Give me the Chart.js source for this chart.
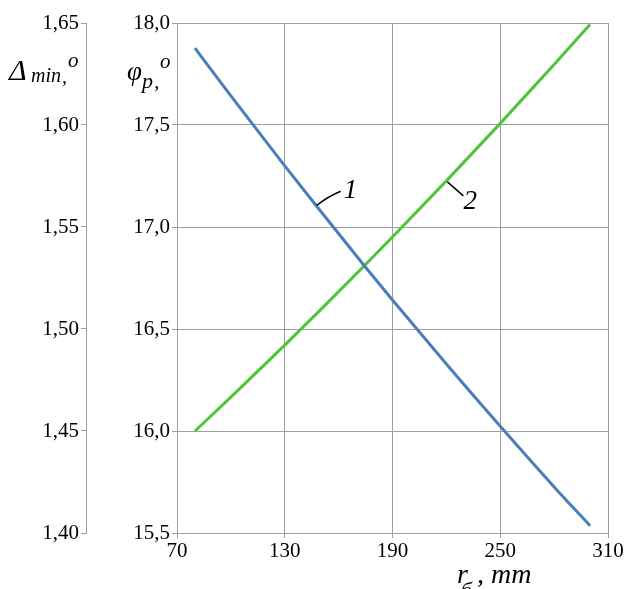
<!DOCTYPE html>
<html>
<head>
<meta charset="utf-8">
<script src="https://cdn.jsdelivr.net/npm/chart.js@4.4.0/dist/chart.umd.min.js"></script>
<style>
  html, body { margin: 0; padding: 0; background: #fff; }
</style>
</head>
<body>
<canvas id="chart" width="626" height="589"></canvas>
<script>
// r_б, mm
const radius = [80, 100, 130, 150, 175, 190, 220, 250, 280, 300];
// curve 1: Δmin, degrees (left outer axis)
const deltaMin = [1.6377, 1.6143, 1.5800, 1.5577, 1.5303, 1.5142, 1.4828, 1.4523, 1.4226, 1.4036];
// curve 2: φp, degrees (inner axis)
const phiP = [16.000, 16.166, 16.421, 16.595, 16.816, 16.951, 17.226, 17.508, 17.797, 17.993];

const xTicks = [70, 130, 190, 250, 310];
const phiTicks = [15.5, 16.0, 16.5, 17.0, 17.5, 18.0];
const phiTickLabels = ['15,5', '16,0', '16,5', '17,0', '17,5', '18,0'];
const deltaTicks = [1.40, 1.45, 1.50, 1.55, 1.60, 1.65];
const deltaTickLabels = ['1,40', '1,45', '1,50', '1,55', '1,60', '1,65'];

const gridColor = '#9f9f9f';
const tickFont = { family: '"Liberation Serif", serif', size: 21 };

function fixedTicks(values) {
    return scale => { scale.ticks = values.map(v => ({ value: v })); };
}

// axis titles and curve labels
const textPlugin = {
    id: 'textPlugin',
    afterDraw(chart) {
        const ctx = chart.ctx;
        const serif = '"Liberation Serif", serif';
        ctx.save();
        ctx.fillStyle = '#000';
        ctx.textBaseline = 'alphabetic';
        ctx.textAlign = 'left';

        // Δmin,o
        ctx.font = 'italic 30px ' + serif;
        ctx.fillText('Δ', 9, 80);
        ctx.font = 'italic 20px ' + serif;
        ctx.fillText('min', 31, 82);
        ctx.fillText(',', 62, 83);
        ctx.font = 'italic 21px ' + serif;
        ctx.fillText('o', 68, 67);

        // φp,o
        ctx.font = 'italic 27px ' + serif;
        ctx.fillText('φ', 127, 80);
        ctx.font = 'italic 22px ' + serif;
        ctx.fillText('p', 142, 88);
        ctx.fillText(',', 154, 88);
        ctx.font = 'italic 21px ' + serif;
        ctx.fillText('o', 160, 68);

        // rб, mm
        ctx.font = 'italic 28px ' + serif;
        ctx.fillText('r', 457, 583);
        ctx.font = 'italic 22px ' + serif;
        ctx.fillText('б', 461, 597);
        ctx.font = 'italic 28px ' + serif;
        ctx.fillText(', mm', 477, 583);

        // curve numbers with leader lines
        const p1 = chart.getDatasetMeta(0).data[3];
        const p2 = chart.getDatasetMeta(1).data[6];
        ctx.strokeStyle = '#000';
        ctx.lineWidth = 1.5;
        ctx.beginPath();
        ctx.moveTo(p1.x - 4, p1.y - 6);
        ctx.quadraticCurveTo(p1.x + 8, p1.y - 15, p1.x + 20, p1.y - 20);
        ctx.moveTo(p2.x + 1, p2.y + 1);
        ctx.lineTo(p2.x + 17, p2.y + 15);
        ctx.stroke();
        ctx.font = 'italic 27px ' + serif;
        ctx.fillText('1', p1.x + 23, p1.y - 13);
        ctx.fillText('2', p2.x + 17, p2.y + 28);
        ctx.restore();
    }
};

const ctx = document.getElementById('chart').getContext('2d');
new Chart(ctx, {
    type: 'line',
    data: {
        datasets: [{
            label: '1',
            data: radius.map((r, i) => ({ x: r, y: deltaMin[i] })),
            yAxisID: 'yDelta',
            borderColor: '#4a7ebb',
            borderWidth: 3,
            pointRadius: 0,
            cubicInterpolationMode: 'monotone',
            fill: false
        }, {
            label: '2',
            data: radius.map((r, i) => ({ x: r, y: phiP[i] })),
            yAxisID: 'yPhi',
            borderColor: '#4fc43a',
            borderWidth: 3,
            pointRadius: 0,
            cubicInterpolationMode: 'monotone',
            fill: false
        }]
    },
    options: {
        responsive: false,
        animation: false,
        devicePixelRatio: 1,
        layout: { padding: { top: 23, right: 18, left: 0, bottom: 0 } },
        plugins: {
            legend: { display: false },
            tooltip: { enabled: false }
        },
        scales: {
            x: {
                type: 'linear',
                min: 70,
                max: 310,
                afterBuildTicks: fixedTicks(xTicks),
                afterFit: s => { s.height = 56; },
                grid: { color: gridColor, tickLength: 5 },
                border: { color: gridColor },
                ticks: { color: '#000', font: tickFont, padding: 1, maxRotation: 0 }
            },
            yPhi: {
                type: 'linear',
                position: 'left',
                weight: 0,
                min: 15.5,
                max: 18.0,
                afterBuildTicks: fixedTicks(phiTicks),
                afterFit: s => { s.width = 91; },
                grid: { color: gridColor, tickLength: 5 },
                border: { color: gridColor },
                ticks: {
                    color: '#000', font: tickFont, padding: 2,
                    callback: v => phiTickLabels[phiTicks.indexOf(v)]
                }
            },
            yDelta: {
                type: 'linear',
                position: 'left',
                weight: 1,
                min: 1.40,
                max: 1.65,
                afterBuildTicks: fixedTicks(deltaTicks),
                afterFit: s => { s.width = 86; },
                grid: { color: gridColor, tickLength: 5, drawOnChartArea: false },
                border: { color: gridColor },
                ticks: {
                    color: '#000', font: tickFont, padding: 2,
                    callback: v => deltaTickLabels[deltaTicks.indexOf(v)]
                }
            }
        }
    },
    plugins: [textPlugin]
});
</script>
</body>
</html>
